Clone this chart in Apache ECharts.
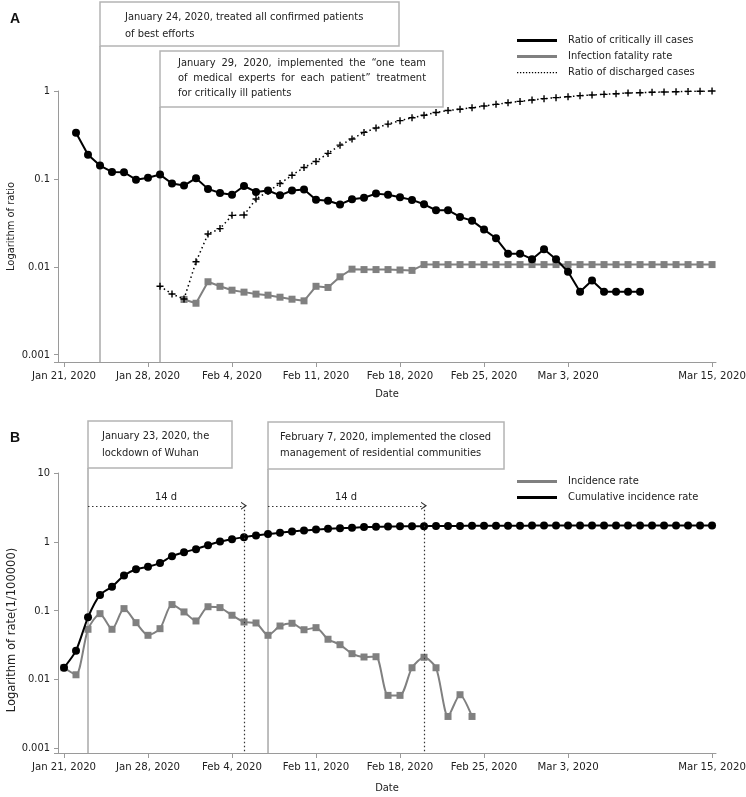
<!DOCTYPE html>
<html><head><meta charset="utf-8">
<script src="https://cdn.jsdelivr.net/npm/echarts@6/dist/echarts.min.js"></script>
<style>html,body{margin:0;padding:0;background:#fff}#c{width:746px;height:797px}</style>
</head><body><div id="c"></div>
<script>
// ---------- data ----------
const START = '2020-01-21';
const xTickDates = ['2020-01-21','2020-01-28','2020-02-04','2020-02-11','2020-02-18','2020-02-25','2020-03-03','2020-03-15'];
const xTickLabels = ['Jan 21, 2020','Jan 28, 2020','Feb 4, 2020','Feb 11, 2020','Feb 18, 2020','Feb 25, 2020','Mar 3, 2020','Mar 15, 2020'];
const yTickLabelsA = ['0.001','0.01','0.1','1'];
const yTickLabelsB = ['0.001','0.01','0.1','1','10'];

const criticalStart = '2020-01-22';
const criticalA = [0.335,0.188,0.142,0.12,0.119,0.098,0.103,0.112,0.0886,0.084,0.102,0.077,0.069,0.066,0.083,0.071,0.0738,0.065,0.0738,0.0757,0.058,0.0565,0.0512,0.0587,0.061,0.068,0.066,0.0618,0.0577,0.0514,0.044,0.044,0.0369,0.0335,0.0265,0.0211,0.0141,0.0141,0.0122,0.0158,0.0122,0.0088,0.0052,0.0070,0.0052,0.0052,0.0052,0.0052];

const fatalityStart = '2020-01-31';
const fatalityA = [0.00425,0.00385,0.00676,0.006,0.00542,0.00515,0.00489,0.00476,0.00451,0.00428,0.0041,0.006,0.00582,0.0077,0.0094,0.0093,0.0093,0.0093,0.0092,0.0091,0.0106,0.0106,0.0106,0.0106,0.0106,0.0106,0.0106,0.0106,0.0106,0.0106,0.0106,0.0106,0.0106,0.0106,0.0106,0.0106,0.0106,0.0106,0.0106,0.0106,0.0106,0.0106,0.0106,0.0106,0.0106];

const dischargedStart = '2020-01-29';
const dischargedA = [0.006,0.0049,0.0043,0.0114,0.0236,0.0272,0.0385,0.0388,0.059,0.072,0.0886,0.110,0.135,0.158,0.195,0.242,0.284,0.338,0.379,0.42,0.46,0.497,0.53,0.57,0.60,0.62,0.645,0.675,0.705,0.736,0.762,0.789,0.818,0.84,0.861,0.885,0.9,0.916,0.93,0.949,0.957,0.966,0.974,0.982,0.99,0.993,1.0];

const incidenceStart = '2020-01-21';
const incidenceB = [0.0148,0.0117,0.0536,0.0904,0.0536,0.107,0.0669,0.0438,0.0547,0.1225,0.0958,0.0708,0.114,0.1107,0.0857,0.0684,0.0662,0.0438,0.0598,0.0655,0.0528,0.0566,0.0384,0.032,0.0237,0.0212,0.0214,0.00587,0.00587,0.0148,0.021,0.0148,0.0029,0.006,0.0029];

const cumulativeStart = '2020-01-21';
const cumulativeB = [0.0148,0.0262,0.080,0.169,0.223,0.323,0.40,0.433,0.494,0.618,0.707,0.783,0.895,1.01,1.094,1.17,1.236,1.294,1.351,1.413,1.459,1.51,1.545,1.58,1.60,1.636,1.65,1.67,1.68,1.69,1.69,1.70,1.70,1.70,1.71,1.71,1.71,1.71,1.71,1.72,1.72,1.72,1.72,1.72,1.72,1.72,1.72,1.72,1.72,1.72,1.72,1.72,1.72,1.72,1.72];

const eventsA = [
  {date:'2020-01-24', lines:['January 24, 2020, treated all confirmed patients','of best efforts']},
  {date:'2020-01-29', lines:['January 29, 2020, implemented the \u201cone team','of medical experts for each patient\u201d treatment','for critically ill patients']}
];
const eventsB = [
  {date:'2020-01-23', lines:['January 23, 2020, the','lockdown of Wuhan']},
  {date:'2020-02-07', lines:['February 7, 2020, implemented the closed','management of residential communities']}
];
const lagsB = [
  {from:'2020-01-23', to:'2020-02-05', label:'14 d'},
  {from:'2020-02-07', to:'2020-02-20', label:'14 d'}
];

// ---------- layout ----------
const FF = "'DejaVu Sans Condensed','Liberation Sans',Arial,sans-serif";
const FS = 11;
const yMinA = 0.000826, yMaxA = 1, yMinB = 0.000854, yMaxB = 10;
const arrowYB = 3.34;
const boxLayoutA = [{y:2,w:299,h:44,tx:25,ty:[15,32]},{y:51,w:283,h:56,tx:18,ty:[12,27,42],justify:[248,248,0]}];
const boxLayoutB = [{y:421,w:144,h:47,tx:14,ty:[15,32]},{y:422,w:236,h:47,tx:12,ty:[15,31]}];

const dayOf = d => Math.round((Date.parse(d+'T00:00:00Z') - Date.parse(START+'T00:00:00Z'))/86400000);
const toXY = (start, vals) => vals.map((v,i) => [dayOf(start)+i, v]);
const xTickPos = xTickDates.map(dayOf);

const SOLID = 'path://M0,0H40V3H0Z';
const DOTS = (() => { let p = 'path://M0,0L0.01,0L0,0.01Z M40,3L39.99,3L40,2.99Z'; for (let x=0; x<40; x+=3) p += ` M${x},1H${x+1.3}V2.2H${x}Z`; return p; })();
const PLUS = 'path://M4,0H6V4H10V6H6V10H4V6H0V4H4Z';
const CHEV = 'path://M5,0L10,10L8.4,10L5,3.2L1.6,10L0,10Z';

function xFmt(pos, labels){ return v => { const i = pos.findIndex(p => Math.abs(p-v) < 1e-6); return i>=0 ? labels[i] : ''; }; }
function yFmt(labels){ return v => { const i = labels.findIndex(l => Math.abs(Math.log10(parseFloat(l)) - Math.log10(v)) < 1e-6); return i>=0 ? labels[i] : ''; }; }

const axisCol = '#9a9a9a';
function xAxisCfg(g, nameGap){
  return {gridIndex:g, type:'value', min:-0.5, max:54.33,
    axisLine:{onZero:false, lineStyle:{color:axisCol, width:1}},
    axisTick:{customValues:xTickPos, length:5, lineStyle:{color:axisCol}},
    axisLabel:{customValues:xTickPos, formatter:xFmt(xTickPos, xTickLabels), color:'#222', fontFamily:FF, fontSize:11.3, margin:9},
    splitLine:{show:false}, nameMoveOverlap:false,
    name:'Date', nameLocation:'middle', nameGap:nameGap, nameTextStyle:{color:'#222', fontFamily:FF, fontSize:FS}};
}
function yAxisCfg(g, min, max, labels, name, nameGap, pad, nfs){
  return {gridIndex:g, type:'log', logBase:10, min:min, max:max,
    axisLine:{show:true, onZero:false, lineStyle:{color:axisCol, width:1}},
    axisTick:{show:true, length:4, lineStyle:{color:axisCol}},
    axisLabel:{formatter:yFmt(labels), color:'#222', fontFamily:FF, fontSize:FS, margin:8},
    splitLine:{show:false}, nameMoveOverlap:false,
    name:name, nameLocation:'middle', nameGap:nameGap, nameTextStyle:{color:'#222', fontFamily:FF, fontSize:nfs, padding:pad}};
}

const BLACK = '#000', GRAY = '#808080';
const legendBase = {orient:'vertical', padding:0, itemWidth:40, itemHeight:3, itemGap:5, selectedMode:false,
  textStyle:{color:'#222', fontFamily:FF, fontSize:FS, padding:[0,0,0,6]}, itemStyle:{borderWidth:0}};
const titleStyle = {fontFamily:"'Liberation Sans',Arial,sans-serif", fontSize:14, fontWeight:'bold', color:'#111'};

const option = {
  animation:false,
  backgroundColor:'#fff',
  title:[
    {text:'A', left:10, top:12, padding:0, textStyle:titleStyle},
    {text:'B', left:10, top:431, padding:0, textStyle:titleStyle}
  ],
  legend:[
    Object.assign({}, legendBase, {left:517, top:35, data:[
      {name:'Ratio of critically ill cases', icon:SOLID},
      {name:'Infection fatality rate', icon:SOLID},
      {name:'Ratio of discharged cases', icon:DOTS}]}),
    Object.assign({}, legendBase, {left:517, top:476, data:[
      {name:'Incidence rate', icon:SOLID},
      {name:'Cumulative incidence rate', icon:SOLID}]})
  ],
  grid:[{left:58, top:91, width:658, height:271, outerBoundsMode:'none', containLabel:false},
        {left:58, top:473, width:658, height:280, outerBoundsMode:'none', containLabel:false}],
  xAxis:[xAxisCfg(0, 27), xAxisCfg(1, 30)],
  yAxis:[yAxisCfg(0, yMinA, yMaxA, yTickLabelsA, 'Logarithm of ratio', 41, 0, FS),
         yAxisCfg(1, yMinB, yMaxB, yTickLabelsB, 'Logarithm of rate(1/100000)', 40, [0,34,0,0], 12.8)],
  series:[
    {name:'Infection fatality rate', type:'line', xAxisIndex:0, yAxisIndex:0, data:toXY(fatalityStart, fatalityA),
      color:GRAY, symbol:'rect', symbolSize:7, lineStyle:{width:2, color:GRAY}, itemStyle:{color:GRAY}, z:2},
    {name:'Ratio of discharged cases', type:'line', xAxisIndex:0, yAxisIndex:0, data:toXY(dischargedStart, dischargedA),
      color:BLACK, symbol:PLUS, symbolSize:7, lineStyle:{width:1.5, color:BLACK, type:[1.5,3]}, itemStyle:{color:BLACK}, z:3},
    {name:'Ratio of critically ill cases', type:'line', xAxisIndex:0, yAxisIndex:0, data:toXY(criticalStart, criticalA),
      color:BLACK, symbol:'circle', symbolSize:8, lineStyle:{width:2, color:BLACK}, itemStyle:{color:BLACK}, z:4},
    {name:'Incidence rate', type:'line', xAxisIndex:1, yAxisIndex:1, data:toXY(incidenceStart, incidenceB),
      color:GRAY, symbol:'rect', symbolSize:7, smooth:0.25, lineStyle:{width:2, color:GRAY}, itemStyle:{color:GRAY}, z:2,
      markLine:{silent:true, symbol:['none','none'], animation:false,
        lineStyle:{type:[1.5,2.5], color:'#333', width:1.2},
        label:{show:true, position:'insideMiddleTop', distance:3, color:'#222', fontFamily:FF, fontSize:FS},
        data: lagsB.flatMap(l => [
          [{coord:[dayOf(l.from), arrowYB], label:{show:true, formatter:l.label}}, {coord:[dayOf(l.to), arrowYB], symbol:CHEV, symbolSize:[8,6]}],
          [{coord:[dayOf(l.to), arrowYB], label:{show:false}}, {coord:[dayOf(l.to), yMinB]}]
        ])}},
    {name:'Cumulative incidence rate', type:'line', xAxisIndex:1, yAxisIndex:1, data:toXY(cumulativeStart, cumulativeB),
      color:BLACK, symbol:'circle', symbolSize:8, smooth:0.25, lineStyle:{width:2, color:BLACK}, itemStyle:{color:BLACK}, z:4}
  ]
};

const chart = echarts.init(document.getElementById('c'));
chart.setOption(option);

// annotation boxes and event lines, positioned through the axes
const mctx = document.createElement('canvas').getContext('2d');
mctx.font = `${FS}px ${FF}`;
function textItems(str, x, y, justifyW){
  const base = {type:'text', silent:true, z:11};
  const st = t => ({text:t, fill:'#222', font:`${FS}px ${FF}`, verticalAlign:'middle', align:'left'});
  if (!justifyW) return [Object.assign({x:x, y:y, style:st(str)}, base)];
  const words = str.split(' ');
  const widths = words.map(w => mctx.measureText(w).width);
  const gap = (justifyW - widths.reduce((a,b)=>a+b,0)) / (words.length-1);
  let cx = x; const out = [];
  words.forEach((w,i) => { out.push(Object.assign({x:cx, y:y, style:st(w)}, base)); cx += widths[i] + gap; });
  return out;
}
function eventGraphics(g, events, layout, yMin){
  const out = [];
  const yBottom = chart.convertToPixel({yAxisIndex:g}, yMin);
  events.forEach((ev, i) => {
    const L = layout[i];
    const x = chart.convertToPixel({xAxisIndex:g}, dayOf(ev.date));
    out.push({type:'line', silent:true, z:1, shape:{x1:x, y1:L.y+L.h, x2:x, y2:yBottom}, style:{stroke:'#a8a8a8', lineWidth:1.5}});
    out.push({type:'rect', silent:true, z:10, shape:{x:x, y:L.y, width:L.w, height:L.h}, style:{fill:'#fff', stroke:'#b4b4b4', lineWidth:1.5}});
    ev.lines.forEach((t, k) => out.push(...textItems(t, x+L.tx, L.y+L.ty[k], L.justify ? L.justify[k] : 0)));
  });
  return out;
}
chart.setOption({graphic: eventGraphics(0, eventsA, boxLayoutA, yMinA).concat(eventGraphics(1, eventsB, boxLayoutB, yMinB))});
</script></body></html>
